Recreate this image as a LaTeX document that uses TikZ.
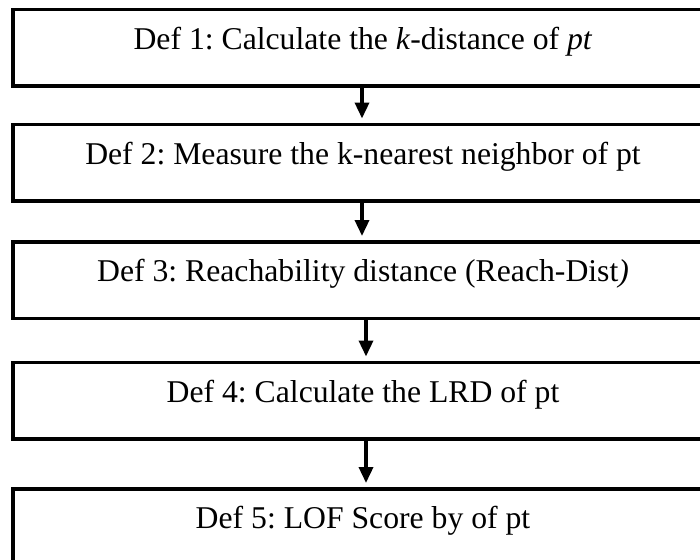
\documentclass[tikz,border=0pt]{standalone}
\usepackage{fontspec}
\setmainfont{Liberation Serif}
\usetikzlibrary{arrows.meta}
\frenchspacing

\begin{document}
\begin{tikzpicture}[x=1pt, y=-1pt,
        defbox/.style={draw, rectangle, line width=3.5pt, minimum width=700pt,
            minimum height=76.5pt, inner sep=0pt, text height=22pt, text depth=19pt,
            font=\fontsize{31.7pt}{38pt}\selectfont},
        flow/.style={line width=3.5pt, -{Triangle[width=14pt, length=16pt]}, shorten >=4pt}]
        \useasboundingbox (0,0) rectangle (700,559);

        % Definition boxes
        \node[defbox] (d1) at (363, 48) {Def 1: Calculate the \textit{k}-distance of \textit{pt}};
        \node[defbox] (d2) at (363, 162.5) {Def 2: Measure the k-nearest neighbor of pt};
        \node[defbox] (d3) at (363, 280) {Def 3: Reachability distance (Reach-Dist\textit{)}};
        \node[defbox] (d4) at (363, 400.5) {Def 4: Calculate the LRD of pt};
        \node[defbox] (d5) at (363, 527) {Def 5: LOF Score by of pt};

        % Arrows
        \draw[flow] ([xshift=-1pt]d1.south) -- ([xshift=-1pt]d2.north);
        \draw[flow] ([xshift=-1pt]d2.south) -- ([xshift=-1pt]d3.north);
        \draw[flow] ([xshift=3pt]d3.south) -- ([xshift=3pt]d4.north);
        \draw[flow] ([xshift=3pt]d4.south) -- ([xshift=3pt]d5.north);
    \end{tikzpicture}
\end{document}
